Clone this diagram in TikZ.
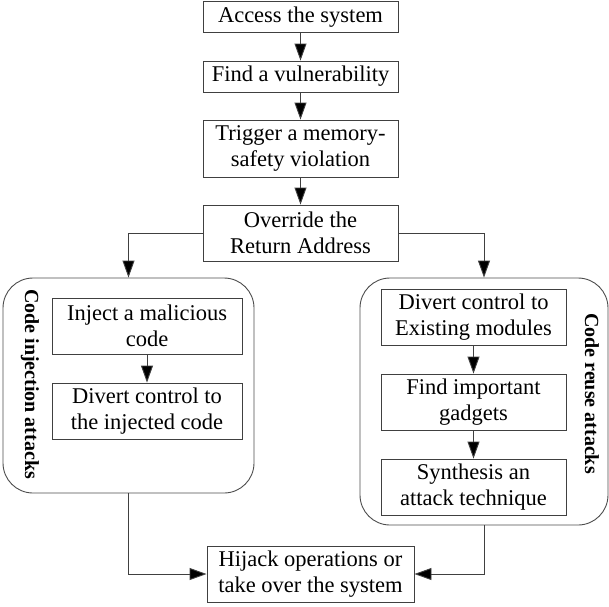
\documentclass[tikz,border=0pt]{standalone}
\usepackage{fontspec}
\setmainfont{Liberation Serif}
\usetikzlibrary{arrows.meta}
\begin{document}
\begin{tikzpicture}[x=1pt,y=-1pt,
  stepbox/.style={draw=black!75,line width=0.9pt,align=center,inner sep=0pt,
    font=\fontsize{22.5}{26.5}\selectfont,minimum height=56pt},
  groupbox/.style={draw=black!70,line width=0.9pt,rounded corners=30pt,inner sep=0pt},
  grouplabel/.style={font=\fontsize{20}{24}\selectfont\bfseries,rotate=-90,inner sep=0pt},
  flow/.style={draw=black!75,line width=0.9pt,-{Triangle[length=17pt,width=12pt,fill=black]}}]
\useasboundingbox (0,0) rectangle (609,606);
\node[stepbox,minimum width=195pt,minimum height=31pt] (a1) at (300.5,17) {Access the system};
\node[stepbox,minimum width=195pt,minimum height=31pt] (a2) at (300.5,76.5) {Find a vulnerability};
\node[stepbox,minimum width=195pt,minimum height=57pt] (a3) at (300.5,148.5) {Trigger a memory-\\safety violation};
\node[stepbox,minimum width=195pt] (a4) at (300.5,233) {Override the\\Return Address};
\node[groupbox,minimum width=251pt,minimum height=215pt] (lc) at (128.5,385.5) {};
\node[groupbox,minimum width=248pt,minimum height=247pt] (rc) at (484,401.5) {};
\node[grouplabel] (lbl1) at (30,384) {Code injection attacks};
\node[grouplabel] (lbl2) at (592,393.5) {Code reuse attacks};
\node[stepbox,minimum width=190pt] (l1) at (147,326) {Inject a malicious\\code};
\node[stepbox,minimum width=190pt] (l2) at (147,411) {Divert control to\\the injected code};
\node[stepbox,minimum width=185pt] (r1) at (473.5,317) {Divert control to\\Existing modules};
\node[stepbox,minimum width=185pt] (r2) at (473.5,402) {Find important\\gadgets};
\node[stepbox,minimum width=185pt] (r3) at (473.5,487) {Synthesis an\\attack technique};
\node[stepbox,minimum width=207pt] (h) at (310.5,574) {Hijack operations or\\take over the system};
\draw[flow] (a1) -- (a2);
\draw[flow] (a2) -- (a3);
\draw[flow] (a3) -- (a4);
\draw[flow] (a4.west) -| (lc.north);
\draw[flow] (a4.east) -| (rc.north);
\draw[flow] (l1) -- (l2);
\draw[flow] (r1) -- (r2);
\draw[flow] (r2) -- (r3);
\draw[flow] (lc.south) |- (h.west);
\draw[flow] (rc.south) |- (h.east);
\end{tikzpicture}
\end{document}
